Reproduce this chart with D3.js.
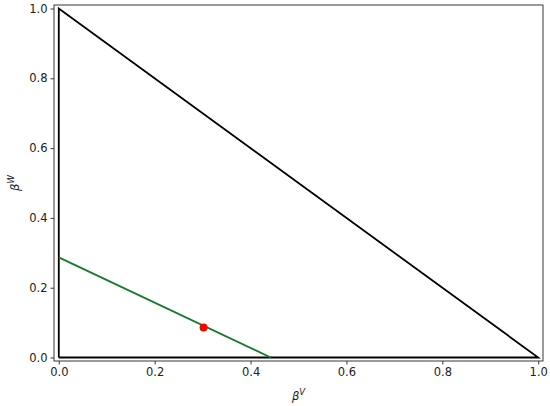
<!DOCTYPE html>
<html>
<head>
<meta charset="utf-8">
<script src="https://cdn.jsdelivr.net/npm/d3@7"></script>
<style>
  body { margin: 0; background: #fff; }
  svg { display: block; }
</style>
</head>
<body>
<script>
const xTicks = [0, 0.2, 0.4, 0.6, 0.8, 1.0];
const yTicks = [0, 0.2, 0.4, 0.6, 0.8, 1.0];

// simplex boundary (black)
const simplexX = [0, 0, 1, 0];
const simplexY = [0, 1, 0, 0];

// feasible line (green)
const lineX = [0, 0.442];
const lineY = [0.287, 0];

// chosen point (red)
const pointX = [0.302];
const pointY = [0.086];

const width = 550;
const height = 406;
const margin = { left: 54, right: 7, top: 5, bottom: 45 };

const xScale = d3
  .scaleLinear()
  .domain([-0.01, 1.01])
  .range([margin.left, width - margin.right]);

const yScale = d3
  .scaleLinear()
  .domain([-0.01, 1.01])
  .range([height - margin.bottom, margin.top]);

const svg = d3
  .select("body")
  .append("svg")
  .attr("width", width)
  .attr("height", height)
  .attr("font-family", "DejaVu Sans, sans-serif");

const fontSize = 11.5;

const xAxis = svg
  .append("g")
  .attr("transform", `translate(0 ${height - margin.bottom})`)
  .call(
    d3.axisBottom(xScale).tickValues(xTicks).tickFormat(d3.format(".1f")).tickSize(3.5).tickPadding(3)
  );

const yAxis = svg
  .append("g")
  .attr("transform", `translate(${margin.left} 0)`)
  .call(
    d3.axisLeft(yScale).tickValues(yTicks).tickFormat(d3.format(".1f")).tickSize(3.5).tickPadding(3)
  );

[xAxis, yAxis].forEach((ax) => {
  ax.select(".domain").remove();
  ax.selectAll("line").attr("stroke", "#222").attr("stroke-width", 0.9);
  ax.selectAll("text")
    .attr("font-size", fontSize)
    .attr("font-family", "DejaVu Sans, sans-serif")
    .attr("fill", "#222");
});

// frame
svg
  .append("rect")
  .attr("x", margin.left)
  .attr("y", margin.top)
  .attr("width", width - margin.left - margin.right)
  .attr("height", height - margin.top - margin.bottom)
  .attr("fill", "none")
  .attr("stroke", "#222")
  .attr("stroke-width", 0.9);

const line = d3
  .line()
  .x((d) => xScale(d[0]))
  .y((d) => yScale(d[1]));

svg
  .append("path")
  .attr("d", line(d3.zip(simplexX, simplexY)))
  .attr("fill", "none")
  .attr("stroke", "#000")
  .attr("stroke-width", 1.8)
  .attr("stroke-linejoin", "miter");

svg
  .append("path")
  .attr("d", line(d3.zip(lineX, lineY)))
  .attr("fill", "none")
  .attr("stroke", "#157a2a")
  .attr("stroke-width", 1.8);

svg
  .selectAll("circle")
  .data(d3.zip(pointX, pointY))
  .enter()
  .append("circle")
  .attr("cx", (d) => xScale(d[0]))
  .attr("cy", (d) => yScale(d[1]))
  .attr("r", 4)
  .attr("fill", "#ff0000");

// axis labels
const cx = (margin.left + width - margin.right) / 2;
const xl = svg
  .append("text")
  .attr("x", cx)
  .attr("y", 400)
  .attr("text-anchor", "middle")
  .attr("font-size", fontSize)
  .attr("fill", "#222");
xl.append("tspan").attr("font-style", "italic").text("β");
xl.append("tspan").attr("font-style", "italic").attr("font-size", 8.5).attr("dy", -5).text("V");

const cy = (margin.top + height - margin.bottom) / 2;
const yl = svg
  .append("text")
  .attr("transform", `translate(19 ${cy}) rotate(-90)`)
  .attr("text-anchor", "middle")
  .attr("font-size", fontSize)
  .attr("fill", "#222");
yl.append("tspan").attr("font-style", "italic").text("β");
yl.append("tspan").attr("font-style", "italic").attr("font-size", 8.5).attr("dy", -5).text("W");
</script>
</body>
</html>
